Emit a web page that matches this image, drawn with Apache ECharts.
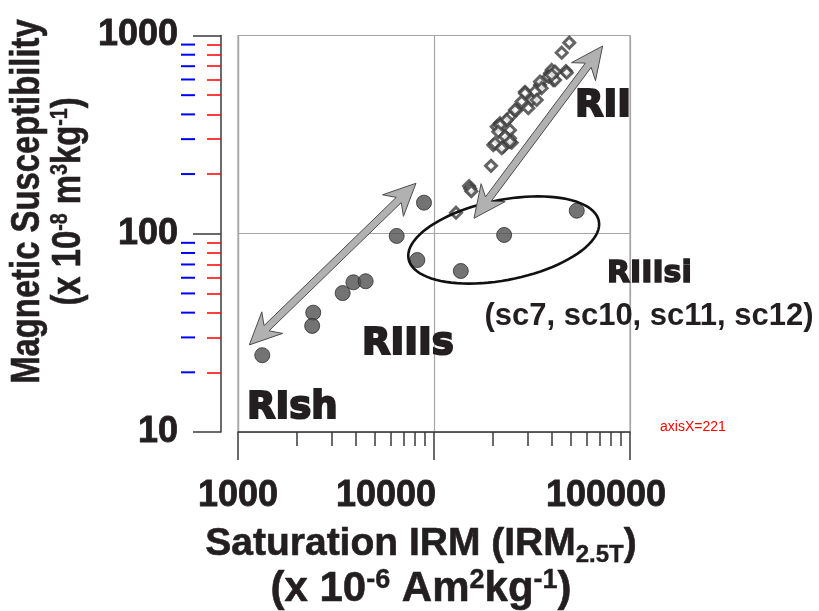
<!DOCTYPE html>
<html>
<head>
<meta charset="utf-8">
<script src="https://cdn.jsdelivr.net/npm/echarts@6/dist/echarts.min.js"></script>
<style>html,body{margin:0;padding:0;background:#fff}#c{width:819px;height:611px}</style>
</head>
<body>
<div id="c"></div>
<script>
// ---- data ----
var circleX = [1330, 2420, 2390, 3420, 3880, 4480, 6450, 8890, 8220, 13700, 22800, 53500];
var circleY = [24.4, 40.0, 34.3, 50.2, 56.9, 57.6, 97.5, 143.5, 73.7, 64.9, 98.6, 130.7];
var diamondX = [939, 12950, 15100, 15300, 15500, 19540, 20070, 22580, 24900, 24400, 20890, 21720, 24400, 26400, 29130, 31500, 34730, 39070, 40600, 47120, 44840, 49000, 39860, 38300, 41430, 34730, 35400, 32740, 33420, 29130, 28000, 30290, 25890, 23500, 21720, 24400, 21280, 23030, 24400, 20480, 22150, 47540, 41430, 39860];
var diamondY = [19.3, 127.7, 174, 169, 164, 220, 280, 275, 288, 303, 347, 361, 389, 421, 520, 473, 562, 645, 596, 662, 819, 920, 670, 620, 596, 585, 542, 520, 473, 511, 464, 430, 421, 375, 353, 333, 327, 309, 291, 286, 270, 649, 657, 632];
var xTicks = [1000, 10000, 100000];
var yTicks = [10, 100, 1000];
var xMinor = [2000, 3000, 4000, 5000, 6000, 7000, 8000, 9000, 20000, 30000, 40000, 50000, 60000, 70000, 80000, 90000];
var yMinor = [20, 30, 40, 50, 60, 70, 80, 90, 200, 300, 400, 500, 600, 700, 800, 900];
// annotation arrows (data coords of both tips)
var arrowX1 = [1142, 72500];
var arrowY1 = [27.5, 885];
var arrowX2 = [8090, 16000];
var arrowY2 = [179.7, 119.7];
// ellipse centre (data coords)
var ellipseX = [22680];
var ellipseY = [93];

var X_MIN = xTicks[0], X_MAX = xTicks[xTicks.length - 1];
var Y_MIN = yTicks[0], Y_MAX = yTicks[yTicks.length - 1];

var chart = echarts.init(document.getElementById('c'));
var FONT = 'Liberation Sans, Arial, sans-serif';
var HEAVY = 'DejaVu Sans, sans-serif';
var dark = '#231f20';
var axisColor = '#3a3a3a';
var Y_OFFSET = 17;

function zip(a, b) { return a.map(function (v, i) { return [v, b[i]]; }); }

function arrowPoly(p1, p2) {
  var dx = p2[0] - p1[0], dy = p2[1] - p1[1];
  var L = Math.sqrt(dx * dx + dy * dy);
  var ux = dx / L, uy = dy / L, nx = -uy, ny = ux;
  var hl = 32, hw = 15, neck = 24, sw = 3.6;
  function P(base, along, perp) { return [base[0] + ux * along + nx * perp, base[1] + uy * along + ny * perp]; }
  return [
    P(p2, 0, 0), P(p2, -hl, hw), P(p2, -neck, sw),
    P(p1, neck, sw), P(p1, hl, hw), P(p1, 0, 0), P(p1, hl, -hw), P(p1, neck, -sw),
    P(p2, -neck, -sw), P(p2, -hl, -hw)
  ];
}

var labelRich = function (pad) {
  return { fontFamily: FONT, fontWeight: 'bold', fontSize: 36, color: dark, textBorderColor: dark, textBorderWidth: 0.8, padding: pad };
};

var baseGraphic = [
  { id: 'ytitle', type: 'text', z: 10, x: 48, y: 201.5, rotation: Math.PI / 2, scaleX: 0.82, scaleY: 1,
    style: {
      text: '{t|Magnetic Susceptibility}\n{t|(x 10}{sup|-8}{t| m}{sup|3}{t|kg}{sup|-1}{t|)}',
      textAlign: 'center', textVerticalAlign: 'middle',
      rich: {
        t: { fontFamily: FONT, fontWeight: 'bold', fontSize: 40, fill: dark, lineHeight: 41, stroke: dark, lineWidth: 0.6 },
        sup: { fontFamily: FONT, fontWeight: 'bold', fontSize: 24, fill: dark, verticalAlign: 'top', lineHeight: 24, stroke: dark, lineWidth: 0.4 }
      }
    } },
  { id: 'rii', type: 'text', z: 10, style: { text: 'RII', x: 575, y: 106, font: 'bold 37px ' + HEAVY, fill: dark, stroke: dark, lineWidth: 2, textAlign: 'left', textVerticalAlign: 'middle' } },
  { id: 'riiis', type: 'text', z: 10, style: { text: 'RIIIs', x: 362, y: 344, font: 'bold 37px ' + HEAVY, fill: dark, stroke: dark, lineWidth: 2, textAlign: 'left', textVerticalAlign: 'middle' } },
  { id: 'rish', type: 'text', z: 10, style: { text: 'RIsh', x: 247, y: 408, font: 'bold 37px ' + HEAVY, fill: dark, stroke: dark, lineWidth: 2, textAlign: 'left', textVerticalAlign: 'middle' } },
  { id: 'riiisi', type: 'text', z: 10, style: { text: 'RIIIsi', x: 607, y: 274, font: 'bold 30px ' + HEAVY, fill: dark, stroke: dark, lineWidth: 1.5, textAlign: 'left', textVerticalAlign: 'middle' } },
  { id: 'sc', type: 'text', z: 10, style: { text: '(sc7, sc10, sc11, sc12)', x: 649, y: 316, font: 'bold 31px ' + FONT, fill: dark, textAlign: 'center', textVerticalAlign: 'middle' } }
];

var option = {
  backgroundColor: '#fff',
  animation: false,
  grid: { left: 238, right: 189, top: 35.5, bottom: 179, outerBoundsMode: 'none', containLabel: false, show: true, borderColor: '#a6a6a6', borderWidth: 1.2 },
  xAxis: [{
    type: 'log', min: X_MIN, max: X_MAX, logBase: 10, position: 'bottom',
    axisLine: { show: true, lineStyle: { color: axisColor, width: 1.5 } },
    axisTick: { show: true, length: 28, lineStyle: { color: axisColor, width: 1.5 } },
    splitLine: { show: true, lineStyle: { color: '#a6a6a6', width: 1.2 } },
    axisLabel: {
      margin: 46,
      formatter: function (v) { return v === 1000 ? '{a|1000}' : v === 10000 ? '{b|10000}' : '{c|100000}'; },
      rich: { a: labelRich([0, 0, 0, 0]), b: labelRich([0, 96, 0, 0]), c: labelRich([0, 48, 0, 0]) }
    },
    name: '{t|Saturation IRM (IRM}{sub|2.5T}{t|)}\n{u|(x 10}{sup|-6}{u| Am}{sup|2}{u|kg}{sup|-1}{u|)}',
    nameLocation: 'middle', nameGap: 90,
    nameTextStyle: {
      padding: [0, 26, 0, 0],
      rich: {
        t: { fontFamily: FONT, fontWeight: 'bold', fontSize: 39, color: dark, lineHeight: 45, textBorderColor: dark, textBorderWidth: 0.6 },
        u: { fontFamily: FONT, fontWeight: 'bold', fontSize: 42, color: dark, lineHeight: 45, textBorderColor: dark, textBorderWidth: 0.6 },
        sub: { fontFamily: FONT, fontWeight: 'bold', fontSize: 24, color: dark, verticalAlign: 'bottom', lineHeight: 26, textBorderColor: dark, textBorderWidth: 0.4 },
        sup: { fontFamily: FONT, fontWeight: 'bold', fontSize: 27, color: dark, verticalAlign: 'top', lineHeight: 28, textBorderColor: dark, textBorderWidth: 0.4 }
      }
    }
  }, {
    type: 'log', min: X_MIN, max: X_MAX, logBase: 10, position: 'bottom',
    axisLine: { show: false },
    axisTick: { show: true, length: 14, customValues: xMinor, lineStyle: { color: axisColor, width: 1.5 } },
    axisLabel: { show: false }, splitLine: { show: false }
  }],
  yAxis: [{
    type: 'log', min: Y_MIN, max: Y_MAX, logBase: 10, position: 'left', offset: Y_OFFSET,
    axisLine: { show: true, lineStyle: { color: axisColor, width: 1.5 } },
    axisTick: { show: true, length: 28, lineStyle: { color: axisColor, width: 1.5 } },
    splitLine: { show: true, lineStyle: { color: '#a6a6a6', width: 1.2 } },
    axisLabel: { margin: 43, fontFamily: FONT, fontWeight: 'bold', fontSize: 36, color: dark, textBorderColor: dark, textBorderWidth: 0.8,
      formatter: function (v) { return String(Math.round(v)); } }
  }, {
    type: 'log', min: Y_MIN, max: Y_MAX, logBase: 10, position: 'left', offset: Y_OFFSET,
    axisLine: { show: false },
    axisTick: { show: true, length: 14, customValues: yMinor, lineStyle: { color: 'red', width: 1.5 } },
    axisLabel: { show: false }, splitLine: { show: false }
  }],
  series: [{
    type: 'scatter', name: 'diamonds', data: zip(diamondX, diamondY), symbol: 'diamond', symbolSize: 11,
    itemStyle: { color: '#ffffff', borderColor: '#3d3d3d', borderWidth: 3 }, z: 3
  }, {
    type: 'scatter', name: 'circles', data: zip(circleX, circleY), symbol: 'circle', symbolSize: 15,
    itemStyle: { color: '#505050', borderColor: '#2e2e2e', borderWidth: 1 }, z: 3
  }, {
    type: 'custom', name: 'ellipse', data: zip(ellipseX, ellipseY), clip: false, z: 4,
    renderItem: function (params, api) {
      var c = api.coord([api.value(0), api.value(1)]);
      var a = 97, b = 40, phi = -0.197, pts = [];
      for (var i = 0; i < 90; i++) {
        var t = i / 90 * Math.PI * 2;
        pts.push([c[0] + a * Math.cos(t) * Math.cos(phi) - b * Math.sin(t) * Math.sin(phi),
                  c[1] + a * Math.cos(t) * Math.sin(phi) + b * Math.sin(t) * Math.cos(phi)]);
      }
      return { type: 'polygon', shape: { points: pts }, style: { fill: 'none', stroke: '#111', lineWidth: 2.6 } };
    }
  }, {
    type: 'custom', name: 'arrows', clip: false, z: 5,
    data: arrowX1.map(function (v, i) { return [v, arrowY1[i], arrowX2[i], arrowY2[i]]; }),
    encode: { x: [0, 2], y: [1, 3] },
    renderItem: function (params, api) {
      var p1 = api.coord([api.value(0), api.value(1)]);
      var p2 = api.coord([api.value(2), api.value(3)]);
      return { type: 'polygon', shape: { points: arrowPoly(p1, p2) }, style: { fill: '#b1b1b1', stroke: '#4d4d4d', lineWidth: 1 } };
    }
  }],
  graphic: { elements: baseGraphic }
};
chart.setOption(option);

var axisX = chart.convertToPixel({ xAxisIndex: 0 }, X_MIN) - Y_OFFSET;
var minorEls = yMinor.map(function (v, i) {
  var py = chart.convertToPixel({ yAxisIndex: 0 }, v);
  return { id: 'ymt' + i, type: 'line', z: 50, shape: { x1: axisX - 40, y1: py, x2: axisX - 26, y2: py }, style: { stroke: 'blue', lineWidth: 2 } };
});
minorEls.push({ id: 'dbg', type: 'text', z: 60, style: { text: 'axisX=' + axisX, x: 660, y: 420, font: '14px sans-serif', fill: 'red' } });
chart.setOption({ graphic: { elements: baseGraphic.concat(minorEls) } });
</script>
</body>
</html>
